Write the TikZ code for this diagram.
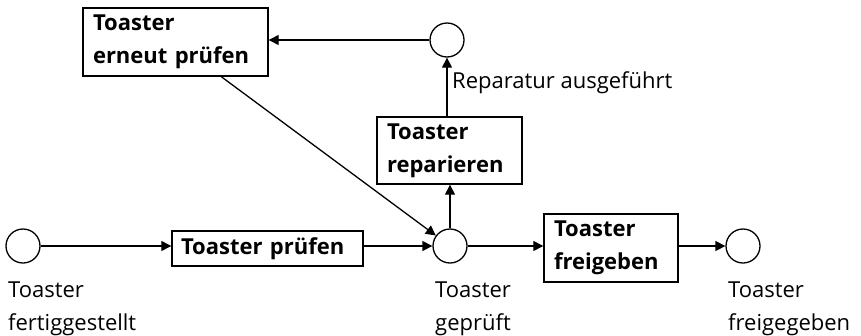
\documentclass[tikz,border=0pt]{standalone}
\usepackage{fontspec}
\setmainfont{Open Sans}[BoldFont={Open Sans Bold}]
\usetikzlibrary{arrows.meta,calc}
\begin{document}
\begin{tikzpicture}[x=1pt,y=-1pt,
  every node/.style={font=\fontsize{22}{33}\selectfont},
  place/.style={draw,circle,line width=1.3pt,minimum size=34pt,inner sep=0pt},
  trans/.style={draw,rectangle,line width=1.4pt,inner xsep=0pt,inner ysep=0pt,align=left,font=\fontsize{22}{33}\selectfont\bfseries},
  lbl/.style={inner sep=0pt,align=left,anchor=north west},
  arr/.style={line width=1.3pt,-{Triangle[length=10pt,width=10pt]}},
  ln/.style={line width=1.2pt}]
\useasboundingbox (0,0) rectangle (861,335);
% places
\node[place] (p1) at (23,246) {};
\node[place] (gep) at (450,246) {};
\node[place] (top) at (447,40) {};
\node[place] (end) at (743,246) {};
% transitions
\node[trans,minimum width=191pt,minimum height=35pt,text width=173pt] (t1) at (267.5,248.5) {Toaster prüfen};
\node[trans,minimum width=185pt,minimum height=68pt,text width=165pt] (ern) at (175.5,42) {Toaster\\erneut prüfen};
\node[trans,minimum width=145pt,minimum height=67pt,text width=125pt] (rep) at (449.5,150.5) {Toaster\\reparieren};
\node[trans,minimum width=134pt,minimum height=68pt,text width=114pt] (fg) at (611,248) {Toaster\\freigeben};
% labels
\node[lbl] (l1) at (8,281.5) {Toaster\\fertiggestellt};
\node[lbl] (l2) at (435,281.5) {Toaster\\geprüft};
\node[lbl] (l3) at (728,281.5) {Toaster\\freigegeben};
\node[inner sep=0pt,anchor=base west] (l4) at (452,88) {Reparatur ausgeführt};
% arcs
\draw[arr] (p1) -- (p1 -| t1.west);
\draw[arr] (t1.east |- gep) -- (gep);
\draw[arr] (gep) -- (gep -| fg.west);
\draw[arr] (fg.east |- end) -- (end);
\draw[arr] (gep) -- (gep |- rep.south);
\draw[arr] (rep.north -| top) -- (top);
\draw[arr] (top) -- (top -| ern.east);
\coordinate (es) at ($(ern.south west)+(139,0)$);
\draw[arr] (es) -- (gep);
\end{tikzpicture}
\end{document}
